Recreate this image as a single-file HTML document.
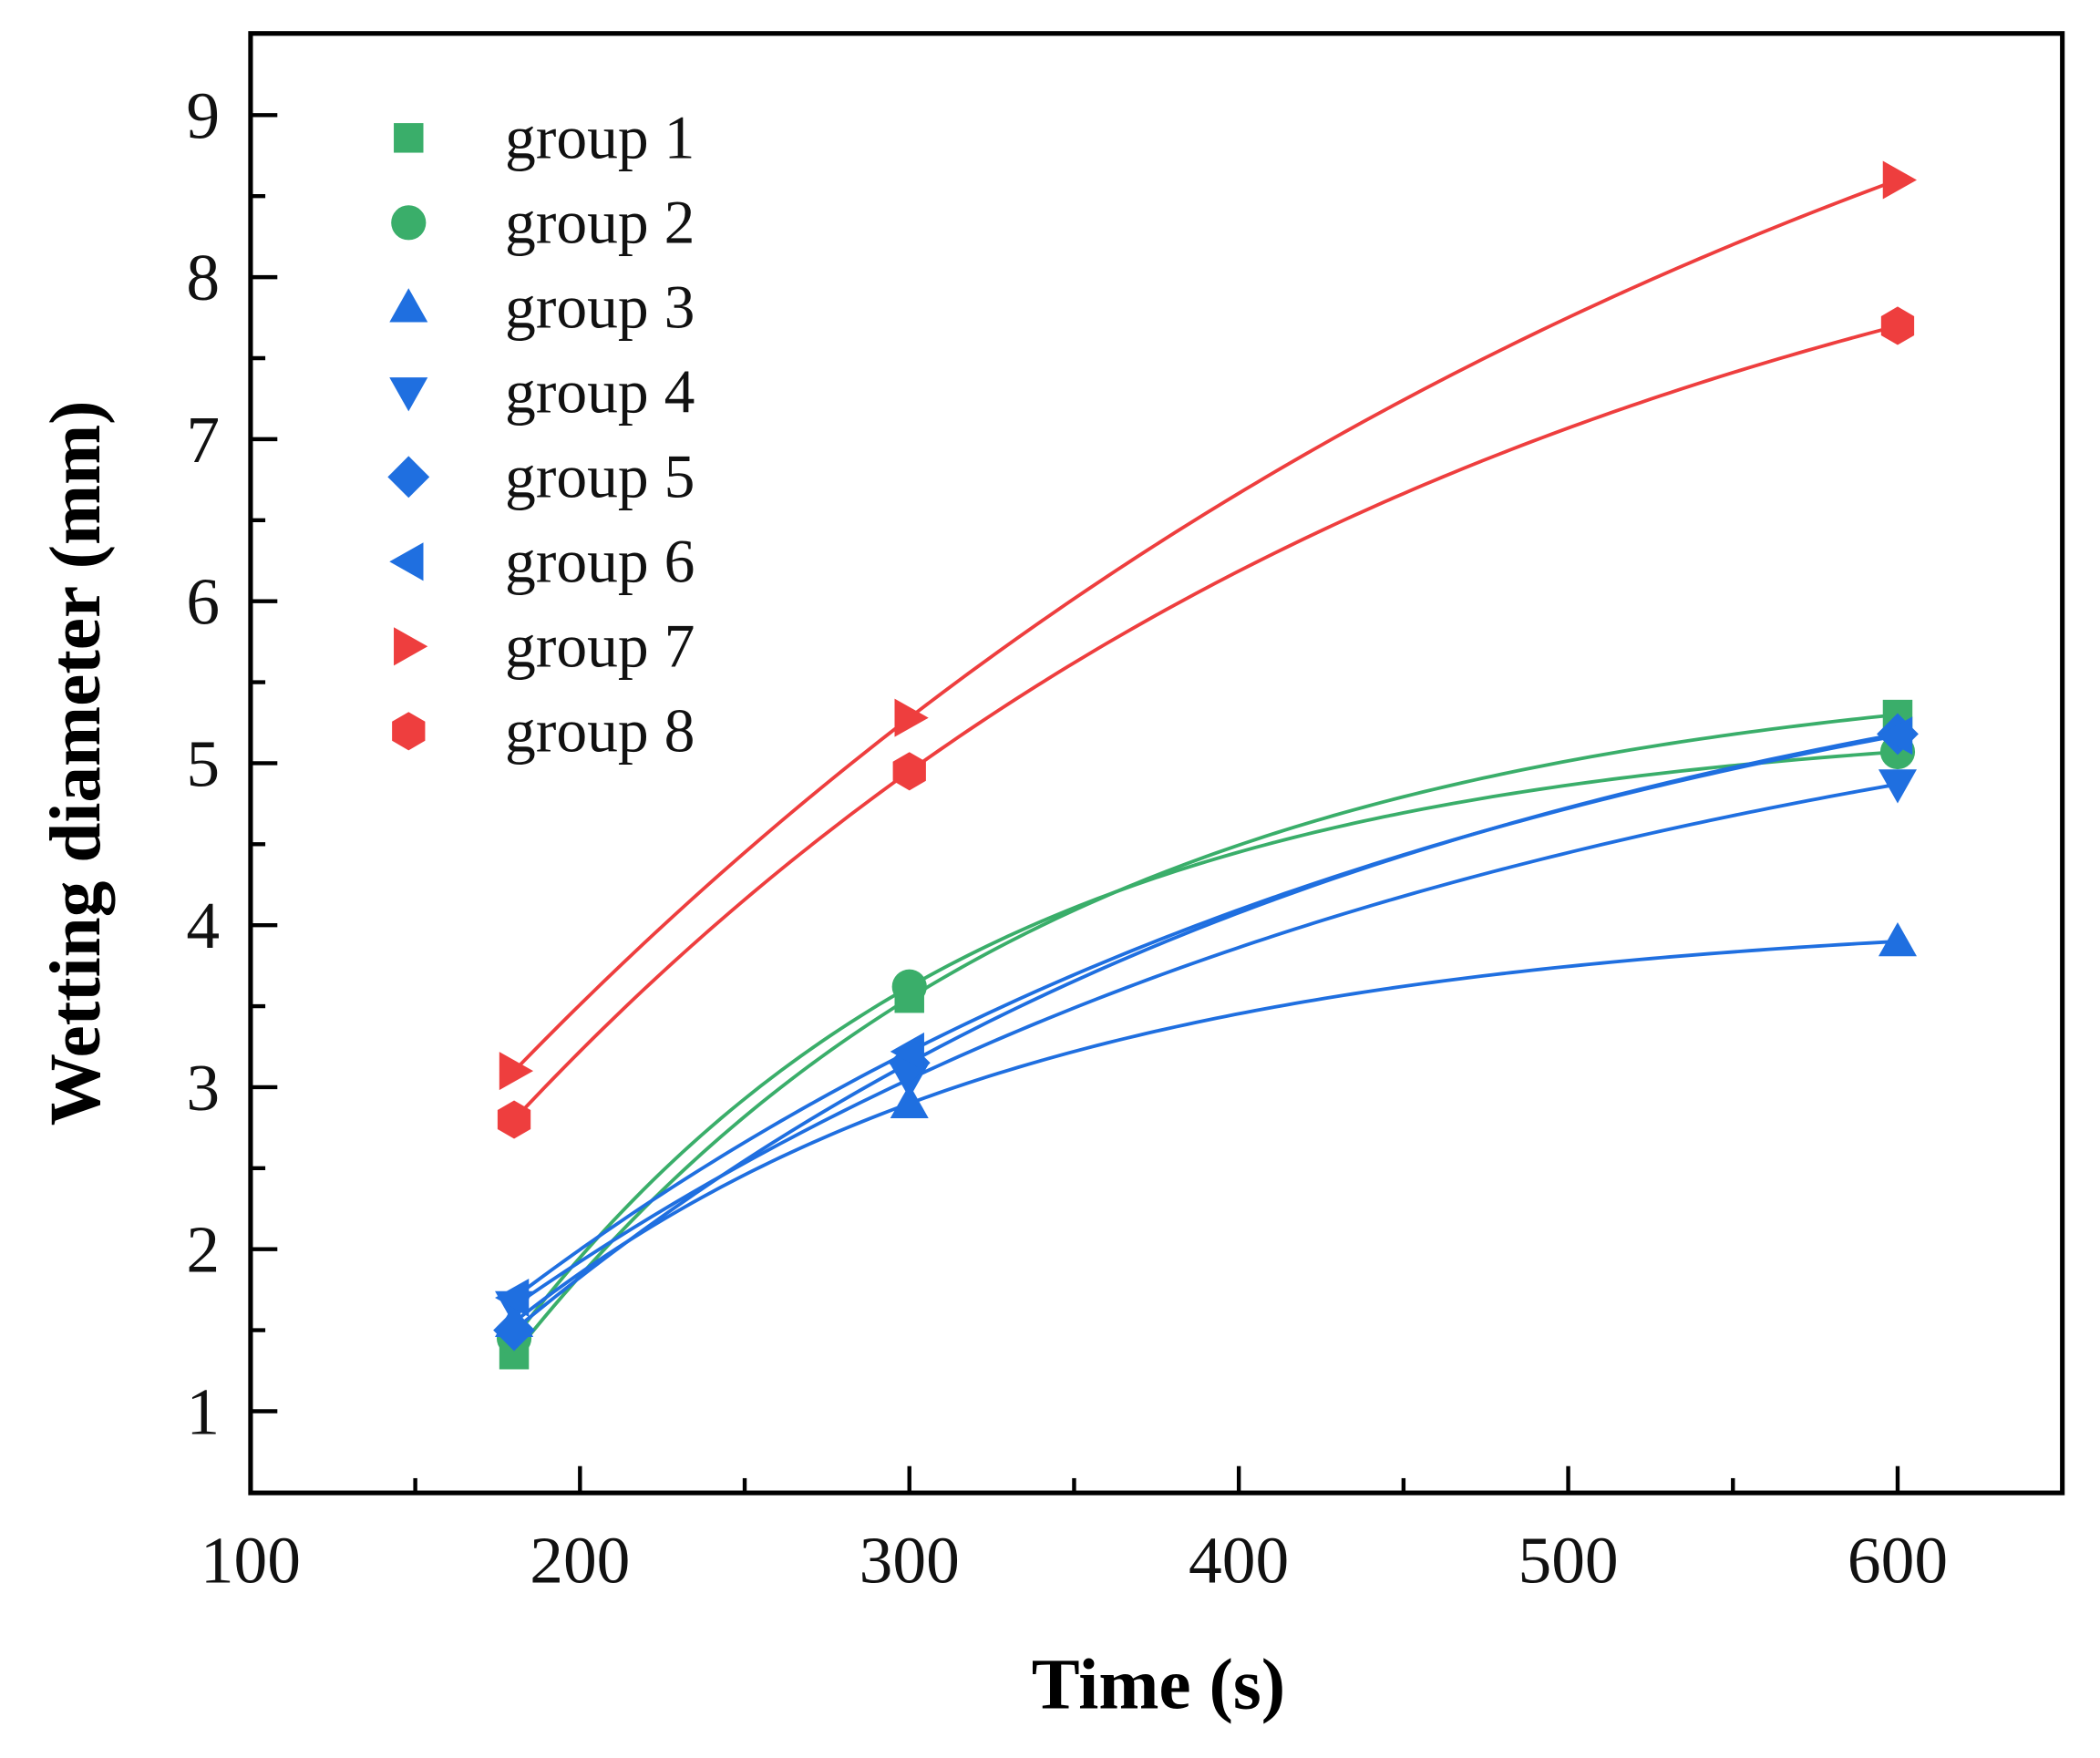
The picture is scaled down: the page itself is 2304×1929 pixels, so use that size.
<!DOCTYPE html>
<html><head><meta charset="utf-8"><style>html,body{margin:0;padding:0;background:#fff}svg{display:block}</style></head>
<body>
<svg id="s" width="2304" height="1929" viewBox="0 0 1568 1313" xmlns="http://www.w3.org/2000/svg" font-family="'Liberation Serif', serif">
<rect x="0" y="0" width="1568" height="1313" fill="#fff"/>
<g id="curves" fill="none" stroke-width="2.6"></g>
<g id="marks"></g>
<rect x="187" y="25" width="1353" height="1090" fill="none" stroke="#000" stroke-width="3.5"/>
<g id="ticks" stroke="#000" stroke-width="3"></g>
<g font-size="50" fill="#111" id="labels"></g>
<text x="865" y="1276" font-size="54" font-weight="bold" text-anchor="middle">Time (s)</text>
<text transform="translate(74,570) rotate(-90)" font-size="54" font-weight="bold" text-anchor="middle">Wetting diameter (mm)</text>
<g id="legend" font-size="46" fill="#111"></g>
</svg>
<script>
const NS="http://www.w3.org/2000/svg";
function el(p,t,a,txt){const e=document.createElementNS(NS,t);for(const k in a)e.setAttribute(k,a[k]);if(txt!=null)e.textContent=txt;document.getElementById(p).appendChild(e);return e;}
const X=t=>187+(t-100)*2.46, Y=v=>1054-(v-1)*121;
const G="#3aae6a",B="#1f6fe0",R="#ee3e3e";
const data=[
["square",G,[1.35,3.55,5.3]],
["circle",G,[1.45,3.62,5.07]],
["up",B,[1.55,2.9,3.9]],
["down",B,[1.65,3.05,4.87]],
["diamond",B,[1.5,3.15,5.18]],
["left",B,[1.7,3.22,5.17]],
["right",R,[3.1,5.28,8.6]],
["hex",R,[2.8,4.95,7.7]]];
const ts=[180,300,600];
function marker(p,type,cx,cy,c,s){
 if(type=="square")return el(p,"rect",{x:cx-s*0.85,y:cy-s*0.85,width:s*1.7,height:s*1.7,fill:c});
 if(type=="circle")return el(p,"circle",{cx:cx,cy:cy,r:s,fill:c});
 const pts={up:[[0,-1.1],[1.1,0.85],[-1.1,0.85]],down:[[0,1.1],[1.1,-0.85],[-1.1,-0.85]],
 left:[[-1.1,0],[0.85,-1.1],[0.85,1.1]],right:[[1.1,0],[-0.85,-1.1],[-0.85,1.1]],
 diamond:[[0,-1.2],[1.2,0],[0,1.2],[-1.2,0]],
 hex:[[0,-1.1],[0.95,-0.55],[0.95,0.55],[0,1.1],[-0.95,0.55],[-0.95,-0.55]]}[type];
 return el(p,"polygon",{points:pts.map(q=>(cx+q[0]*s)+","+(cy+q[1]*s)).join(" "),fill:c});
}
data.forEach(([type,c,v])=>{
 const r=(v[2]-v[1])/(v[1]-v[0]);
 const f=cc=>(Math.exp(-cc*300)-Math.exp(-cc*600))/(Math.exp(-cc*180)-Math.exp(-cc*300));
 let lo=1e-7,hi=0.1;
 for(let i=0;i<100;i++){const m=(lo+hi)/2; if(f(m)>r)lo=m;else hi=m;}
 const cc=(lo+hi)/2;
 const b=(v[1]-v[0])/(Math.exp(-cc*180)-Math.exp(-cc*300));
 const a=v[0]+b*Math.exp(-cc*180);
 let d="";
 for(let t=180;t<=600;t+=3){d+=(t==180?"M":"L")+X(t).toFixed(2)+","+Y(a-b*Math.exp(-cc*t)).toFixed(2);}
 el("curves","path",{d:d,stroke:c});
 ts.forEach((t,i)=>marker("marks",type,X(t),Y(v[i]),c,13));
});
for(let t=100;t<=650;t+=50){const x=X(t);if(x<=188)continue;el("ticks","line",{x1:x,y1:1115,x2:x,y2:1115-(t%100==0?20:11)});}
for(let v=0.5;v<=9.5;v+=0.5){const y=Y(v);if(y>1114||y<26)continue;el("ticks","line",{x1:187,y1:y,x2:187+(v%1==0?20:11),y2:y});}
for(let t=100;t<=600;t+=100)el("labels","text",{x:X(t),y:1182,"text-anchor":"middle"},String(t));
for(let v=1;v<=9;v++)el("labels","text",{x:164,y:Y(v)+17,"text-anchor":"end"},String(v));
data.forEach(([type,c],i)=>{const y=103+i*63.3;marker("legend",type,305,y,c,13);el("legend","text",{x:377,y:y+15},"group "+(i+1));});
</script>
</body></html>
